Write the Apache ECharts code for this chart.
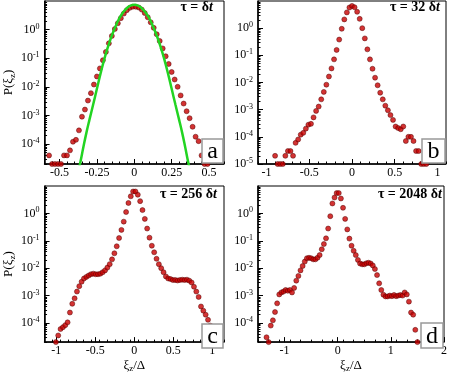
<!DOCTYPE html>
<html>
<head>
<meta charset="utf-8">
<script src="https://cdn.jsdelivr.net/npm/echarts@6/dist/echarts.min.js"></script>
<style>
html, body { margin: 0; padding: 0; background: #fff; }
#chart { width: 450px; height: 374px; }
</style>
</head>
<body>
<div id="chart"></div>
<script>
// panel a : tau = dt
const xA = [-0.57,-0.55,-0.53,-0.51,-0.49,-0.47,-0.45,-0.43,-0.41,-0.39,-0.37,-0.35,-0.33,-0.31,-0.29,-0.27,-0.25,-0.23,-0.21,-0.19,-0.17,-0.15,-0.13,-0.11,-0.09,-0.07,-0.05,-0.03,-0.01,
  0.01,0.03,0.05,0.07,0.09,0.11,0.13,0.15,0.17,0.19,0.21,0.23,0.25,0.27,0.29,0.31,0.33,0.35,0.37,0.39,0.41,0.43,0.45,0.47,0.49];
const pA = [4e-5,2e-5,2e-5,2e-5,2e-5,4e-5,4e-5,6e-5,1.2e-4,1.4e-4,3e-4,9e-4,1.6e-3,3.3e-3,6e-3,0.012,0.023,0.044,0.085,0.166,0.33,0.60,1.05,1.66,2.51,3.63,4.79,5.75,6.31,
  6.3,5.9,5.0,3.8,2.7,1.8,1.15,0.69,0.40,0.22,0.117,0.063,0.033,0.018,0.01,0.005,0.0026,0.0014,8e-4,4e-4,1.8e-4,1.26e-4,4e-5,2e-5,2e-5];
// gaussian fit drawn in panel a
const xFit = [-0.38,-0.36,-0.34,-0.32,-0.3,-0.275,-0.25,-0.225,-0.2,-0.175,-0.15,-0.125,-0.1,-0.075,-0.05,-0.025,0,
  0.025,0.05,0.075,0.1,0.125,0.15,0.175,0.2,0.225,0.25,0.275,0.3,0.32,0.34,0.36,0.38];
const pFit = [8e-6,2.4e-5,8e-5,2.5e-4,7e-4,2.4e-3,8.5e-3,0.03,0.095,0.26,0.62,1.3,2.5,4.0,5.6,6.9,7.4,
  6.9,5.6,4.0,2.5,1.3,0.62,0.26,0.095,0.03,8.5e-3,2.4e-3,7e-4,2.5e-4,8e-5,2.4e-5,8e-6];

// panel b : tau = 32 dt
const xB = [-0.90,-0.87,-0.84,-0.81,-0.78,-0.75,-0.72,-0.69,-0.66,-0.63,-0.60,-0.57,-0.54,-0.51,-0.48,-0.45,-0.42,-0.39,-0.36,-0.33,-0.30,-0.27,-0.24,-0.21,-0.18,-0.15,-0.12,-0.09,-0.06,-0.03,
  0,0.03,0.06,0.09,0.12,0.15,0.18,0.21,0.24,0.27,0.30,0.33,0.36,0.39,0.42,0.45,0.48,0.51,0.54,0.57,0.60,0.63,0.66,0.69,0.72,0.75,0.78,0.81,0.84,0.87];
const pB = [2e-5,1e-5,1e-5,1e-5,2e-5,3e-5,3e-5,2e-5,6e-5,8e-5,1.2e-4,1.4e-4,2e-4,2.8e-4,3e-4,5.2e-4,9e-4,1.3e-3,2.4e-3,4.5e-3,8.3e-3,0.0166,0.033,0.071,0.158,0.38,0.95,2.1,3.8,5.75,
  6.6,5.9,4.0,2.2,1.0,0.42,0.166,0.071,0.032,0.015,0.0079,0.0042,0.0024,0.0014,9.5e-4,6.3e-4,4.2e-4,2.4e-4,2.1e-4,1.9e-4,2.4e-4,7e-5,1e-4,1e-4,7e-5,3e-5,3e-5,1e-5,1e-5,1e-5];

// panel c : tau = 256 dt
const xC = [-1.005,-0.975,-0.945,-0.915,-0.885,-0.855,-0.825,-0.795,-0.765,-0.735,-0.705,-0.675,-0.645,-0.615,-0.585,-0.555,-0.525,-0.495,-0.465,-0.435,-0.405,-0.375,-0.345,-0.315,-0.285,-0.255,-0.225,-0.195,-0.165,-0.135,-0.105,-0.075,-0.045,-0.015,
  0.015,0.045,0.075,0.105,0.135,0.165,0.195,0.225,0.255,0.285,0.315,0.345,0.375,0.405,0.435,0.465,0.495,0.525,0.555,0.585,0.615,0.645,0.675,0.705,0.735,0.765,0.795,0.825,0.855,0.885,0.915,0.945,0.975,1.005,1.035];
const pC = [2e-5,3.5e-5,6e-5,7e-5,8.3e-5,1.05e-4,2.4e-4,5e-4,7.9e-4,1.4e-3,2.2e-3,3.2e-3,4.2e-3,4.8e-3,5.4e-3,6e-3,6.3e-3,6e-3,6e-3,6.3e-3,7.1e-3,8.3e-3,0.0105,0.014,0.021,0.035,0.063,0.126,0.25,0.5,1.12,2.4,4.2,6.3,
  6.3,4.8,2.8,1.32,0.63,0.28,0.13,0.066,0.038,0.022,0.014,0.01,7.1e-3,5e-3,4.2e-3,4e-3,3.7e-3,3.7e-3,3.55e-3,3.7e-3,3.8e-3,3.7e-3,3.8e-3,3.5e-3,3e-3,2.1e-3,1.4e-3,8.9e-4,4e-4,2.8e-4,2e-4,1.3e-4,8e-5,4e-5,2e-5];

// panel d : tau = 2048 dt
const xD = [-1.34,-1.30,-1.26,-1.22,-1.18,-1.14,-1.10,-1.06,-1.02,-0.98,-0.94,-0.90,-0.86,-0.82,-0.78,-0.74,-0.70,-0.66,-0.62,-0.58,-0.54,-0.50,-0.46,-0.42,-0.38,-0.34,-0.30,-0.26,-0.22,-0.18,-0.14,-0.10,-0.06,-0.02,
  0.02,0.06,0.10,0.14,0.18,0.22,0.26,0.30,0.34,0.38,0.42,0.46,0.50,0.54,0.58,0.62,0.66,0.70,0.74,0.78,0.82,0.86,0.90,0.94,0.98,1.02,1.06,1.10,1.14,1.18,1.22,1.26,1.30,1.34,1.38,1.42,1.46,1.50];
const pD = [3e-5,2e-5,8e-5,1.25e-4,2.5e-4,5.2e-4,1.1e-3,1.3e-3,1.4e-3,1.6e-3,1.5e-3,1.6e-3,1.3e-3,1.9e-3,3.5e-3,5.2e-3,8.3e-3,0.012,0.0174,0.023,0.024,0.023,0.021,0.021,0.024,0.030,0.049,0.076,0.123,0.28,0.79,2.3,3.8,5.5,
  5.5,3.5,1.6,0.63,0.26,0.12,0.066,0.043,0.030,0.020,0.0148,0.0138,0.0138,0.0151,0.0158,0.0148,0.0126,0.0093,0.0056,0.0028,0.0016,0.00107,9.3e-4,9.3e-4,1e-3,9.5e-4,1.05e-3,9.5e-4,1e-3,1.05e-3,1e-3,1.3e-3,1.1e-3,6e-4,2.4e-4,2e-4,5.6e-5,2e-5];

// tick labels
const xTicksA = [-0.5, -0.25, 0, 0.25, 0.5];
const xTicksB = [-1, -0.5, 0, 0.5, 1];
const xTicksC = [-1, -0.5, 0, 0.5, 1];
const xTicksD = [-1, 0, 1, 2];
const yTicks = [1e-4, 1e-3, 1e-2, 1e-1, 1];
const yTicksB = [1e-5, 1e-4, 1e-3, 1e-2, 1e-1, 1];

const serif = 'Liberation Serif';

function steps(from, to, step) {
    let out = [];
    let n = Math.round((to - from) / step);
    for (let i = 0; i <= n; i++) out.push(Math.round((from + i * step) * 1000) / 1000);
    return out;
}

function logMinors(min, max) {
    let out = [];
    for (let k = -6; k <= 1; k++) {
        for (let m = 2; m <= 9; m++) {
            let v = m * Math.pow(10, k);
            if (v >= min && v <= max) out.push(v);
        }
    }
    return out;
}

const panels = [
    { grid: {left: 37, top: 1, width: 187, height: 163}, xMin: -0.6, xMax: 0.6, xStep: 0.05, yMin: 2e-5, yMax: 10,
      xTicks: xTicksA, yTicks: yTicks, yName: true, xName: false,
      xs: xA, ps: pA, title: '{g|τ = δ}{i|t}', titleRight: 237, titleTop: 0, tag: 'a', box: [202, 139, 21, 24] },
    { grid: {left: 258, top: 1, width: 188, height: 163}, xMin: -1.1, xMax: 1.1, xStep: 0.1, yMin: 1e-5, yMax: 10,
      xTicks: xTicksB, yTicks: yTicksB, yName: false, xName: false,
      xs: xB, ps: pB, title: '{g|τ = 32 δ}{i|t}', titleRight: 10, titleTop: 0, tag: 'b', box: [422, 139, 23, 24] },
    { grid: {left: 37, top: 186, width: 187, height: 163}, xMin: -1.15, xMax: 1.15, xStep: 0.1, yMin: 2e-5, yMax: 10,
      xTicks: xTicksC, yTicks: yTicks, yName: true, xName: true,
      xs: xC, ps: pC, title: '{g|τ = 256 δ}{i|t}', titleRight: 233, titleTop: 187, tag: 'c', box: [202, 324, 21, 24] },
    { grid: {left: 258, top: 186, width: 188, height: 163}, xMin: -1.5, xMax: 2, xStep: 0.2, yMin: 2e-5, yMax: 10,
      xTicks: xTicksD, yTicks: yTicks, yName: false, xName: true,
      xs: xD, ps: pD, title: '{g|τ = 2048 δ}{i|t}', titleRight: 8, titleTop: 187, tag: 'd', box: [421, 323, 22, 25] }
];

const axisColor = '#000';
const nameRich = {
    s: { fontFamily: serif, fontSize: 9, lineHeight: 9, verticalAlign: 'bottom', color: '#000' }
};

let grids = [], xAxes = [], yAxes = [], series = [], titles = [], graphics = [];

panels.forEach((p, i) => {
    grids.push(Object.assign({ show: true, borderColor: '#000', borderWidth: 1, backgroundColor: '#fff', containLabel: false }, p.grid));

    let xMain = {
        type: 'value', gridIndex: i, position: 'bottom', min: p.xMin, max: p.xMax,
        axisLine: { show: true, onZero: false, lineStyle: { color: axisColor, width: 1.5 } },
        axisTick: { show: true, inside: true, length: 5, customValues: p.xTicks, lineStyle: { color: axisColor, width: 1 } },
        axisLabel: { customValues: p.xTicks, margin: 3, fontFamily: serif, fontSize: 12, color: '#000',
            formatter: (v) => String(v) },
        splitLine: { show: false }
    };
    if (p.xName) {
        xMain.name = 'ξ{s|z}/Δ';
        xMain.nameLocation = 'middle';
        xMain.nameGap = 10;
        xMain.nameTextStyle = { fontFamily: serif, fontSize: 13, color: '#000', lineHeight: 15, rich: nameRich };
    }
    xAxes.push(xMain);
    xAxes.push({
        type: 'value', gridIndex: i, position: 'bottom', min: p.xMin, max: p.xMax,
        axisLine: { show: false, onZero: false },
        axisTick: { show: true, inside: true, length: 2.5, customValues: steps(p.xMin, p.xMax, p.xStep), lineStyle: { color: axisColor, width: 1 } },
        axisLabel: { show: false },
        splitLine: { show: false }
    });

    let yMain = {
        type: 'log', logBase: 10, gridIndex: i, position: 'left', min: p.yMin, max: p.yMax,
        axisLine: { show: true, onZero: false, lineStyle: { color: axisColor, width: 1.5 } },
        axisTick: { show: true, inside: true, length: 5, customValues: p.yTicks, lineStyle: { color: axisColor, width: 1 } },
        axisLabel: {
            customValues: p.yTicks, margin: 5, color: '#000',
            formatter: (v) => '{b|10}{e|' + Math.round(Math.log10(v)) + '}',
            rich: {
                b: { fontFamily: serif, fontSize: 12, lineHeight: 14, color: '#000' },
                e: { fontFamily: serif, fontSize: 8, lineHeight: 8, verticalAlign: 'top', color: '#000' }
            }
        },
        splitLine: { show: false }
    };
    if (p.yName) {
        yMain.name = 'P(ξ{s|z})';
        yMain.nameLocation = 'middle';
        yMain.nameGap = 22;
        yMain.nameTextStyle = { fontFamily: serif, fontSize: 13, color: '#000', lineHeight: 16, rich: nameRich };
    }
    yAxes.push(yMain);
    yAxes.push({
        type: 'log', logBase: 10, gridIndex: i, position: 'left', min: p.yMin, max: p.yMax,
        axisLine: { show: false, onZero: false },
        axisTick: { show: true, inside: true, length: 2.5, customValues: logMinors(p.yMin, p.yMax), lineStyle: { color: axisColor, width: 1 } },
        axisLabel: { show: false },
        splitLine: { show: false }
    });

    series.push({
        type: 'scatter', xAxisIndex: 2 * i, yAxisIndex: 2 * i,
        data: p.xs.map((x, k) => [x, p.ps[k]]),
        symbol: 'circle', symbolSize: 5,
        itemStyle: { color: '#c80000', borderColor: '#500000', borderWidth: 0.6 },
        z: 3
    });

    titles.push({
        text: p.title, right: p.titleRight, top: p.titleTop, padding: 0,
        textStyle: {
            rich: {
                g: { fontFamily: serif, fontSize: 14, color: '#000' },
                i: { fontFamily: serif, fontSize: 14, fontStyle: 'italic', color: '#000' }
            }
        }
    });

    let b = p.box;
    graphics.push({ type: 'rect', z: 100, shape: { x: b[0], y: b[1], width: b[2], height: b[3] },
        style: { fill: '#fff', stroke: '#999', lineWidth: 1.5 } });
    graphics.push({ type: 'text', z: 101, x: b[0] + b[2] / 2, y: b[1] + b[3] / 2 + 1,
        style: { text: p.tag, font: '24px "Liberation Serif"', fill: '#000', align: 'center', verticalAlign: 'middle' } });
});

// fitted gaussian in panel a
series.push({
    type: 'line', xAxisIndex: 0, yAxisIndex: 0,
    data: xFit.map((x, k) => [x, pFit[k]]),
    smooth: true, showSymbol: false, clip: true,
    lineStyle: { color: '#22d422', width: 2.5 },
    z: 4
});

const chart = echarts.init(document.getElementById('chart'));
chart.setOption({
    animation: false,
    backgroundColor: '#fff',
    title: titles,
    grid: grids,
    xAxis: xAxes,
    yAxis: yAxes,
    series: series,
    graphic: graphics
});
</script>
</body>
</html>
